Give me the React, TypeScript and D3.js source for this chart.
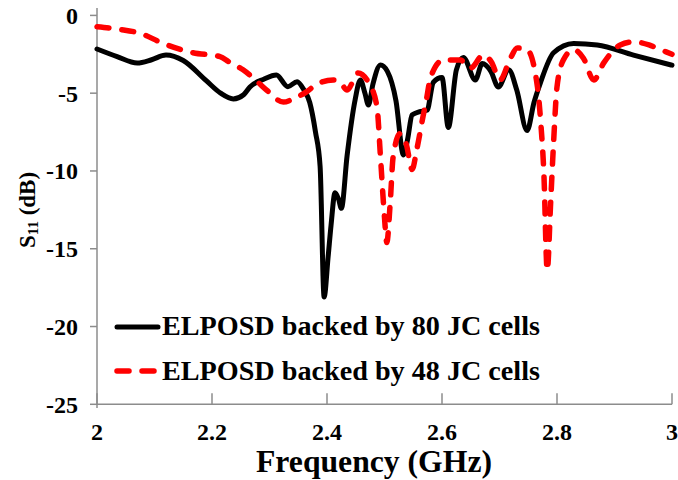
import React from "react";
import * as d3 from "d3";

const blackFreq = [2.0, 2.035, 2.07, 2.095, 2.12, 2.15, 2.19, 2.215, 2.237, 2.255, 2.266, 2.29, 2.312, 2.332, 2.348, 2.36, 2.37, 2.38, 2.388, 2.395, 2.402, 2.407, 2.414, 2.42, 2.425, 2.435, 2.449, 2.458, 2.466, 2.472, 2.48, 2.493, 2.505, 2.52, 2.533, 2.54, 2.548, 2.56, 2.574, 2.585, 2.6, 2.611, 2.625, 2.637, 2.658, 2.67, 2.685, 2.698, 2.716, 2.73, 2.748, 2.76, 2.771, 2.794, 2.829, 2.87, 2.933, 3.0];
const blackS11 = [-2.16, -2.65, -3.06, -2.85, -2.55, -2.9, -4.2, -5.0, -5.37, -5.1, -4.6, -4.1, -3.83, -4.58, -4.26, -4.8, -5.6, -7.5, -9.7, -18.1, -15.5, -13.5, -11.4, -11.8, -12.4, -9.0, -5.4, -4.15, -5.0, -5.76, -4.4, -3.19, -3.6, -5.5, -8.97, -8.0, -6.4, -6.2, -6.1, -4.3, -4.0, -7.2, -3.5, -2.7, -4.15, -3.1, -3.6, -4.6, -3.5, -4.8, -7.4, -5.6, -4.35, -2.4, -1.8, -1.9, -2.55, -3.2];

const redFreq = [2.0, 2.04, 2.075, 2.115, 2.167, 2.214, 2.23, 2.254, 2.28, 2.295, 2.324, 2.345, 2.365, 2.383, 2.411, 2.423, 2.435, 2.454, 2.472, 2.487, 2.493, 2.5, 2.504, 2.51, 2.515, 2.527, 2.538, 2.548, 2.556, 2.567, 2.573, 2.58, 2.602, 2.632, 2.649, 2.672, 2.686, 2.701, 2.719, 2.731, 2.748, 2.766, 2.772, 2.777, 2.783, 2.789, 2.794, 2.8, 2.811, 2.829, 2.846, 2.864, 2.881, 2.91, 2.933, 2.96, 2.98, 3.0];
const redS11 = [-0.73, -0.9, -1.15, -1.8, -2.4, -2.65, -3.0, -3.5, -4.3, -4.8, -5.57, -5.3, -4.9, -4.4, -4.15, -4.3, -4.8, -3.7, -4.3, -5.9, -9.1, -13, -14.6, -12, -9.1, -7.6, -8.3, -9.9, -8.65, -6.5, -5.4, -4.0, -2.87, -2.87, -3.4, -2.55, -3.0, -4.15, -2.75, -2.1, -2.2, -4.6, -7.0, -10, -16.4, -12, -8.2, -4.6, -2.87, -2.2, -2.75, -4.15, -3.07, -1.9, -1.7, -1.9, -2.2, -2.5];

const xTicks = [2, 2.2, 2.4, 2.6, 2.8, 3];
const yTicks = [0, -5, -10, -15, -20, -25];
const legendLabels = ["ELPOSD backed by 80 JC cells", "ELPOSD backed by 48 JC cells"];

const W = 678;
const H = 480;
const txt: React.CSSProperties = { fontFamily: '"Liberation Serif"', fontWeight: 700 };

export default function App() {
  const x = d3.scaleLinear().domain([2, 3]).range([97, 672]);
  const y = d3.scaleLinear().domain([-25, 0]).range([404.3, 15.4]);

  const line = d3
    .line<[number, number]>()
    .x((d) => x(d[0]))
    .y((d) => y(d[1]))
    .curve(d3.curveMonotoneX);

  const blackData: [number, number][] = blackFreq.map((f, i) => [f, blackS11[i]]);
  const redData: [number, number][] = redFreq.map((f, i) => [f, redS11[i]]);

  const axisColor = "#8c8c8c";

  return (
    <svg
      width={W}
      height={H}
      style={{ position: "absolute", left: 0, top: 0, background: "#fff" }}
    >
      {/* axes */}
      <line x1={x(2)} x2={x(2)} y1={8} y2={408} stroke={axisColor} strokeWidth={1.5} />
      <line x1={x(2)} x2={x(3)} y1={y(-25)} y2={y(-25)} stroke={axisColor} strokeWidth={1.5} />
      {yTicks.map((t) => (
        <g key={"y" + t}>
          <line x1={x(2) - 7} x2={x(2)} y1={y(t)} y2={y(t)} stroke={axisColor} strokeWidth={1.5} />
          <text x={78} y={y(t)} dy="0.35em" textAnchor="end" fontSize={24} fill="#000" style={txt}>
            {t}
          </text>
        </g>
      ))}
      {xTicks.map((t) => (
        <g key={"x" + t}>
          <line x1={x(t)} x2={x(t)} y1={y(-25) - 11} y2={y(-25)} stroke={axisColor} strokeWidth={1.5} />
          <text x={x(t)} y={440} textAnchor="middle" fontSize={24} fill="#000" style={txt}>
            {t}
          </text>
        </g>
      ))}

      {/* curves */}
      <path d={line(blackData) || ""} fill="none" stroke="#000" strokeWidth={5} strokeLinejoin="round" strokeLinecap="round" />
      <path
        d={line(redData) || ""}
        fill="none"
        stroke="#ff0000"
        strokeWidth={5.5}
        strokeDasharray="12,13"
        strokeLinecap="round"
        strokeLinejoin="round"
      />

      {/* legend */}
      <line x1={117} x2={158} y1={327} y2={327} stroke="#000" strokeWidth={5} strokeLinecap="round" />
      <text x={162} y={335} fontSize={27} fill="#000" style={txt} textLength={378} lengthAdjust="spacingAndGlyphs">
        {legendLabels[0]}
      </text>
      <line x1={117} x2={160} y1={371} y2={371} stroke="#ff0000" strokeWidth={5.5} strokeDasharray="12,13" strokeLinecap="round" />
      <text x={162} y={380} fontSize={27} fill="#000" style={txt} textLength={378} lengthAdjust="spacingAndGlyphs">
        {legendLabels[1]}
      </text>

      {/* axis titles */}
      <text x={256} y={472} fontSize={31} fill="#000" style={txt} textLength={236} lengthAdjust="spacingAndGlyphs">
        Frequency (GHz)
      </text>
      <text transform="translate(35,210) rotate(-90)" textAnchor="middle" fontSize={23} fill="#000" style={txt}>
        S<tspan fontSize={15} dy={3}>11</tspan>
        <tspan dy={-3}> (dB)</tspan>
      </text>
    </svg>
  );
}
